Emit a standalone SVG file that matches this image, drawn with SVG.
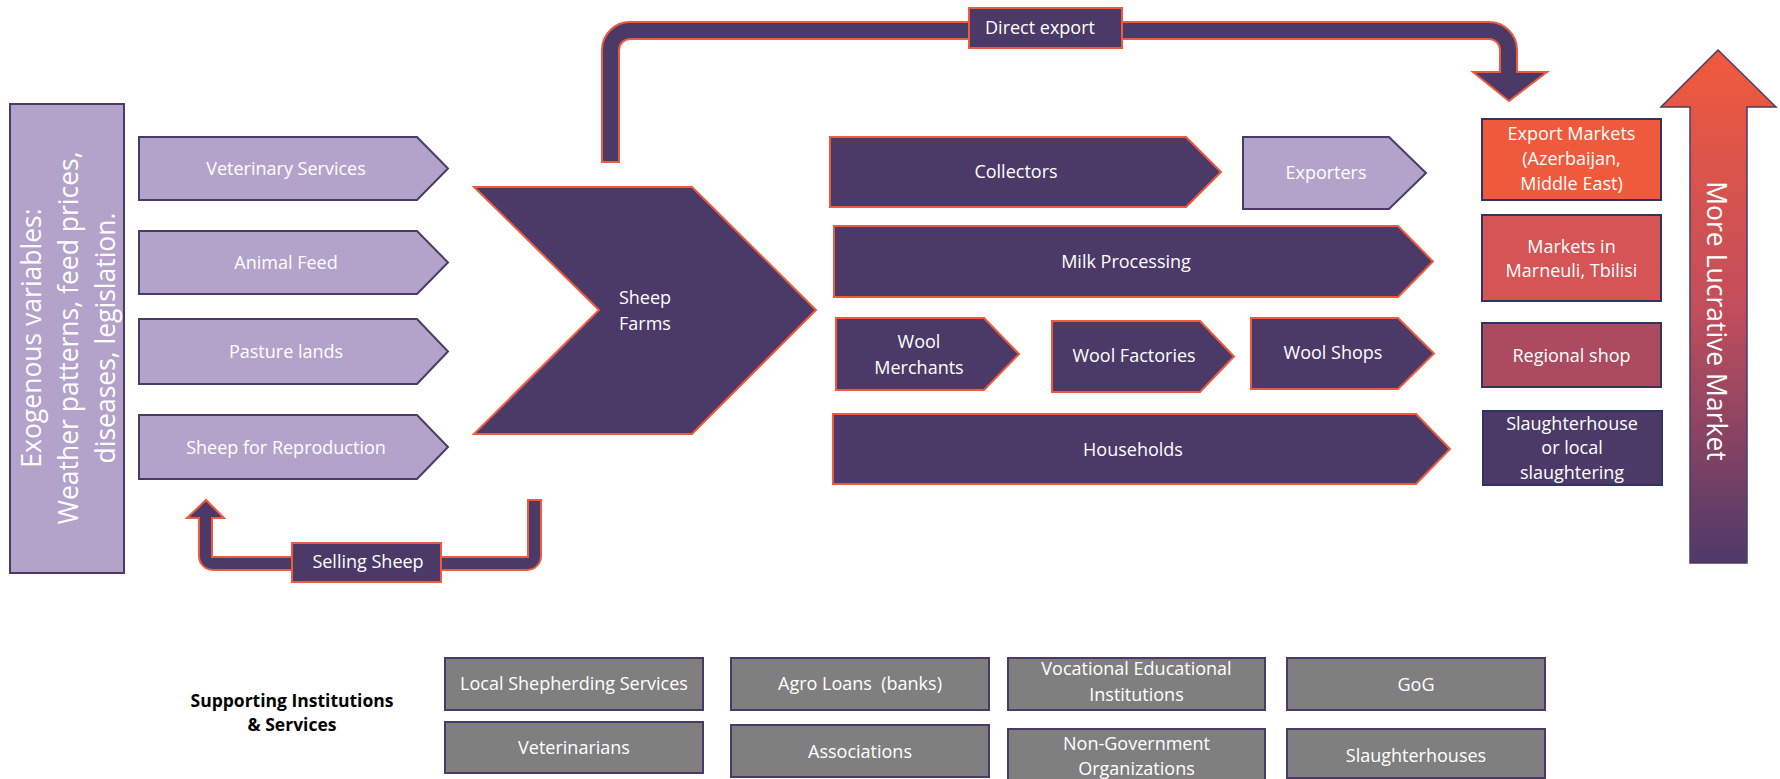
<svg xmlns="http://www.w3.org/2000/svg" width="1780" height="779" viewBox="0 0 1780 779">
<defs>
<linearGradient id="lucr" x1="0" y1="50" x2="0" y2="563" gradientUnits="userSpaceOnUse">
<stop offset="0" stop-color="#F05A3C"/>
<stop offset="0.5" stop-color="#C24E5C"/>
<stop offset="1" stop-color="#4E3A69"/>
</linearGradient>
</defs>
<style>
text{font-family:"Open Sans","Liberation Sans",sans-serif;fill:#FFFFFF;font-size:18px;text-anchor:middle}
.lt{fill:#B3A3CB;stroke:#4B3A67;stroke-width:2}
.dk{fill:#4B3A67;stroke:#F05A3C;stroke-width:2}
.mk{stroke:#2F3560;stroke-width:2}
.gr{fill:#7F7F7F;stroke:#4B3A67;stroke-width:2}
.big{font-size:26.5px}
.lbl{font-weight:bold;fill:#000000;font-size:17.5px}
</style>
<g id="exogenous">
<rect class="lt" x="10" y="104" width="114" height="469"/>
<text class="big" transform="translate(41,338) rotate(-90)">Exogenous variables:</text>
<text class="big" transform="translate(78,338) rotate(-90)">Weather patterns, feed prices,</text>
<text class="big" transform="translate(115,338) rotate(-90)">diseases, legislation.</text>
</g>
<g id="veterinary-services">
<polygon class="lt" points="139,137 417,137 448,168.5 417,200 139,200"/>
<text x="286" y="175">Veterinary Services</text>
</g>
<g id="animal-feed">
<polygon class="lt" points="139,231 417,231 448,262.5 417,294 139,294"/>
<text x="286" y="269">Animal Feed</text>
</g>
<g id="pasture-lands">
<polygon class="lt" points="139,319 417,319 448,351.5 417,384 139,384"/>
<text x="286" y="358">Pasture lands</text>
</g>
<g id="sheep-reproduction">
<polygon class="lt" points="139,415 417,415 448,447 417,479 139,479"/>
<text x="286" y="454">Sheep for Reproduction</text>
</g>
<g id="connectors">
<path class="dk" d="M602,162 L602,50 A28,28 0 0 1 630,22 L1489,22 A28,28 0 0 1 1517,50 L1517,72 L1547,72 L1509,101 L1473,72 L1500,72 L1500,50 A11,11 0 0 0 1489,39 L630,39 A11,11 0 0 0 619,50 L619,162 Z"/>
<path class="dk" d="M541,500 L541,556 A14,14 0 0 1 527,570 L213,570 A14,14 0 0 1 199,556 L199,518 L187,518 L206,500 L224,518 L212,518 L212,557 L528,557 L528,500 Z"/>
</g>
<g id="direct-export">
<rect class="dk" x="969" y="8" width="153" height="40"/>
<text x="1040" y="34">Direct export</text>
</g>
<g id="selling-sheep">
<rect class="dk" x="292" y="543" width="149" height="39"/>
<text x="368" y="568">Selling Sheep</text>
</g>
<g id="sheep-farms">
<polygon class="dk" points="474,187 692,187 816,310 692,434 474,434 599,310"/>
<text x="645" y="304">Sheep</text>
<text x="645" y="330">Farms</text>
</g>
<g id="collectors">
<polygon class="dk" points="830,137 1186,137 1221,172 1186,207 830,207"/>
<text x="1016" y="178">Collectors</text>
</g>
<g id="exporters">
<polygon class="lt" points="1243,137 1389,137 1426,173 1389,209 1243,209"/>
<text x="1326" y="179">Exporters</text>
</g>
<g id="milk-processing">
<polygon class="dk" points="834,226 1398,226 1433,261.5 1398,297 834,297"/>
<text x="1126" y="268">Milk Processing</text>
</g>
<g id="wool-merchants">
<polygon class="dk" points="836,318 984,318 1019,354 984,390 836,390"/>
<text x="919" y="348">Wool</text>
<text x="919" y="374">Merchants</text>
</g>
<g id="wool-factories">
<polygon class="dk" points="1052,321 1200,321 1234,356.5 1200,392 1052,392"/>
<text x="1134" y="362">Wool Factories</text>
</g>
<g id="wool-shops">
<polygon class="dk" points="1251,318 1398,318 1434,353.5 1398,389 1251,389"/>
<text x="1333" y="359">Wool Shops</text>
</g>
<g id="households">
<polygon class="dk" points="833,414 1416,414 1450,449 1416,484 833,484"/>
<text x="1133" y="456">Households</text>
</g>
<g id="export-markets">
<rect class="mk" fill="#F05A3C" x="1482" y="119" width="179" height="81"/>
<text x="1571.5" y="140">Export Markets</text>
<text x="1571.5" y="165">(Azerbaijan,</text>
<text x="1571.5" y="190">Middle East)</text>
</g>
<g id="markets-marneuli">
<rect class="mk" fill="#D55455" x="1482" y="215" width="179" height="86"/>
<text x="1571.5" y="253">Markets in</text>
<text x="1571.5" y="277">Marneuli, Tbilisi</text>
</g>
<g id="regional-shop">
<rect class="mk" fill="#AC4A60" x="1482" y="323" width="179" height="64"/>
<text x="1571.5" y="362">Regional shop</text>
</g>
<g id="slaughterhouse">
<rect class="mk" fill="#4B3A67" x="1483" y="411" width="179" height="74"/>
<text x="1572" y="430">Slaughterhouse</text>
<text x="1572" y="454">or local</text>
<text x="1572" y="479">slaughtering</text>
</g>
<g id="more-lucrative">
<polygon fill="url(#lucr)" stroke="#4B3A67" stroke-width="1.5" points="1718,50 1776,107 1747,107 1747,563 1690,563 1690,107 1661,107"/>
<text class="big" transform="translate(1707,321) rotate(90)">More Lucrative Market</text>
</g>
<g id="supporting-label">
<text class="lbl" x="292" y="707">Supporting Institutions</text>
<text class="lbl" x="292" y="731">&amp; Services</text>
</g>
<g id="local-shepherding">
<rect class="gr" x="445" y="658" width="258" height="52"/>
<text x="574" y="690">Local Shepherding Services</text>
</g>
<g id="veterinarians">
<rect class="gr" x="445" y="722" width="258" height="51"/>
<text x="574" y="754">Veterinarians</text>
</g>
<g id="agro-loans">
<rect class="gr" x="731" y="658" width="258" height="52"/>
<text x="860" y="690" xml:space="preserve">Agro Loans  (banks)</text>
</g>
<g id="associations">
<rect class="gr" x="731" y="725" width="258" height="52"/>
<text x="860" y="758">Associations</text>
</g>
<g id="vocational">
<rect class="gr" x="1008" y="658" width="257" height="52"/>
<text x="1136.5" y="675">Vocational Educational</text>
<text x="1136.5" y="701">Institutions</text>
</g>
<g id="ngo">
<rect class="gr" x="1008" y="729" width="257" height="52"/>
<text x="1136.5" y="750">Non-Government</text>
<text x="1136.5" y="775">Organizations</text>
</g>
<g id="gog">
<rect class="gr" x="1287" y="658" width="258" height="52"/>
<text x="1416" y="691">GoG</text>
</g>
<g id="slaughterhouses">
<rect class="gr" x="1287" y="729" width="258" height="49"/>
<text x="1416" y="762">Slaughterhouses</text>
</g>
</svg>
